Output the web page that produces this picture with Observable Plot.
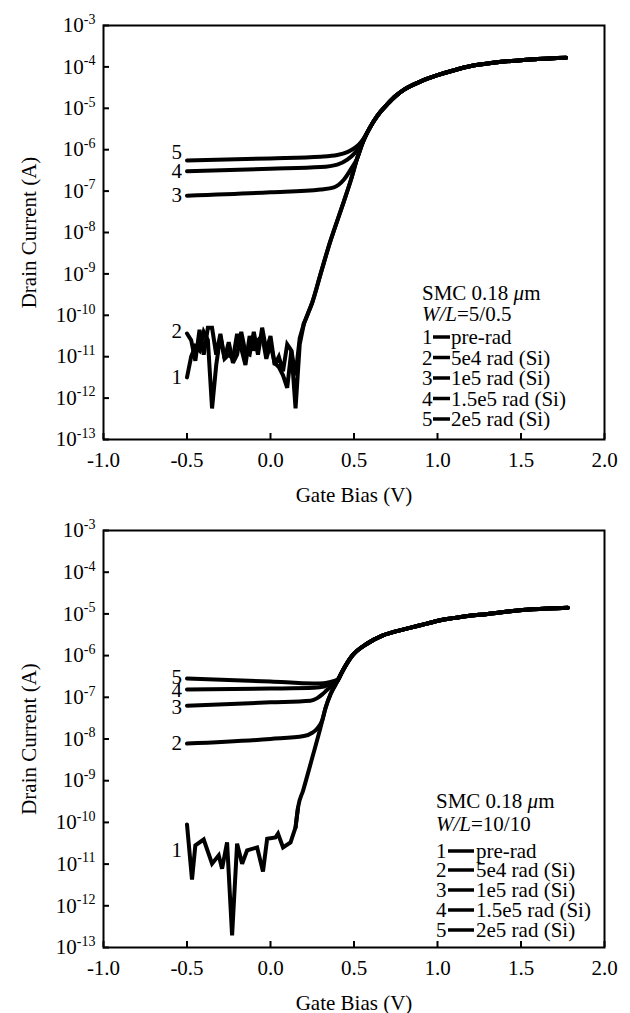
<!DOCTYPE html>
<html><head><meta charset="utf-8">
<script src="https://cdn.jsdelivr.net/npm/d3@7"></script>
<script src="https://cdn.jsdelivr.net/npm/@observablehq/plot@0.6"></script>
<style>
body{margin:0;background:#fff;}
#wrap{width:630px;}
svg{display:block;}
</style></head><body><div id="wrap"></div>
<script>
const FONT = '"Liberation Serif", "Times New Roman", serif';

// axis ticks
const xTicks = [-1.0, -0.5, 0.0, 0.5, 1.0, 1.5, 2.0];
const yTickExps = [-13, -12, -11, -10, -9, -8, -7, -6, -5, -4, -3];
const legendNames = ["pre-rad", "5e4 rad (Si)", "1e5 rad (Si)", "1.5e5 rad (Si)", "2e5 rad (Si)"];
const curveNames = ["1", "2", "3", "4", "5"];

// ---------- Top panel: SMC 0.18 um, W/L = 5/0.5 (values are log10 of drain current in A) ----------
const topNoiseX = [-0.5, -0.475, -0.45, -0.425, -0.4, -0.375, -0.35, -0.325, -0.3, -0.275, -0.25, -0.225, -0.2, -0.175, -0.15, -0.125, -0.1, -0.075, -0.05, -0.025, 0.0, 0.025, 0.05, 0.075, 0.1, 0.125, 0.15, 0.175, 0.2];
const top1NoiseLog = [-11.5, -11.0, -10.75, -10.85, -10.4, -10.6, -12.25, -11.2, -10.5, -11.05, -10.95, -11.05, -10.45, -10.8, -11.2, -10.5, -10.85, -10.6, -10.5, -11.05, -10.7, -11.15, -11.25, -11.45, -11.75, -10.85, -12.25, -10.7, -10.2];
const top2NoiseLog = [-10.44, -10.6, -11.1, -10.35, -10.95, -10.3, -10.3, -10.95, -10.45, -11.05, -10.65, -11.15, -10.95, -10.4, -10.9, -10.95, -10.4, -10.95, -10.3, -10.85, -10.5, -11.2, -11.0, -11.35, -10.7, -10.85, -11.45, -10.55, -10.2];
const topRiseX = [0.225, 0.25, 0.30, 0.36, 0.38, 0.44, 0.48, 0.52, 0.55];
const topRiseLog = [-9.95, -9.69, -9.0, -8.19, -7.95, -7.24, -6.75, -6.2, -5.85];
const topOnX = [0.58, 0.62, 0.66, 0.70, 0.75, 0.80, 0.90, 1.0, 1.1, 1.2, 1.3, 1.4, 1.5, 1.6, 1.77];
const topOnLog = [-5.58, -5.3, -5.08, -4.9, -4.7, -4.55, -4.35, -4.2, -4.08, -3.98, -3.92, -3.87, -3.84, -3.81, -3.78];
const top3X = [-0.5, 0.0, 0.3, 0.38, 0.44, 0.48, 0.52, 0.55];
const top3Log = [-7.11, -7.03, -6.96, -6.91, -6.72, -6.48, -6.2, -5.85];
const top4X = [-0.5, 0.0, 0.3, 0.40, 0.46, 0.50, 0.53, 0.56];
const top4Log = [-6.52, -6.46, -6.42, -6.36, -6.24, -6.10, -5.94, -5.72];
const top5X = [-0.5, 0.0, 0.3, 0.40, 0.46, 0.50, 0.53, 0.56];
const top5Log = [-6.26, -6.21, -6.17, -6.13, -6.06, -5.97, -5.87, -5.72];

// ---------- Bottom panel: SMC 0.18 um, W/L = 10/10 ----------
const bot1NoiseX = [-0.5, -0.47, -0.45, -0.40, -0.35, -0.31, -0.29, -0.26, -0.23, -0.20, -0.17, -0.14, -0.08, -0.045, -0.02, 0.03, 0.045, 0.075, 0.12, 0.15];
const bot1NoiseLog = [-10.05, -11.37, -10.55, -10.41, -10.99, -10.79, -11.11, -10.48, -12.71, -10.51, -10.99, -10.67, -10.6, -11.18, -10.39, -10.36, -10.27, -10.6, -10.48, -10.12];
const bot1RiseX = [0.165, 0.195, 0.25, 0.30, 0.33, 0.36, 0.40];
const bot1RiseLog = [-9.64, -9.24, -8.45, -7.72, -7.25, -6.92, -6.62];
const botOnX = [0.43, 0.49, 0.58, 0.67, 0.75, 0.84, 0.93, 1.03, 1.15, 1.30, 1.45, 1.57, 1.78];
const botOnLog = [-6.38, -6.0, -5.71, -5.52, -5.42, -5.33, -5.24, -5.14, -5.07, -5.0, -4.93, -4.89, -4.85];
const bot2X = [-0.5, 0.0, 0.20, 0.25, 0.28, 0.31, 0.33, 0.36, 0.40];
const bot2Log = [-8.11, -8.0, -7.93, -7.85, -7.75, -7.55, -7.25, -6.92, -6.62];
const bot3X = [-0.5, 0.0, 0.24, 0.28, 0.31, 0.34, 0.37, 0.40];
const bot3Log = [-7.20, -7.12, -7.08, -7.02, -6.93, -6.82, -6.72, -6.62];
const bot4X = [-0.5, 0.0, 0.26, 0.32, 0.36, 0.40];
const bot4Log = [-6.81, -6.79, -6.77, -6.74, -6.68, -6.60];
const bot5X = [-0.5, 0.0, 0.26, 0.32, 0.36, 0.40];
const bot5Log = [-6.55, -6.62, -6.67, -6.66, -6.63, -6.58];

function seriesRows(name, xs, logs) {
  return xs.map((x, i) => ({series: name, x, y: Math.pow(10, logs[i])}));
}
const last = a => a[a.length - 1];

// noisy (straight-segment) parts and smooth parts of each curve
const topNoisy = [
  seriesRows("1", topNoiseX, top1NoiseLog),
  seriesRows("2", topNoiseX, top2NoiseLog)
];
const topSmooth = [
  seriesRows("1", [last(topNoiseX), ...topRiseX, ...topOnX], [last(top1NoiseLog), ...topRiseLog, ...topOnLog]),
  seriesRows("2", [last(topNoiseX), ...topRiseX, ...topOnX], [last(top2NoiseLog), ...topRiseLog, ...topOnLog]),
  seriesRows("3", [...top3X, ...topOnX], [...top3Log, ...topOnLog]),
  seriesRows("4", [...top4X, ...topOnX], [...top4Log, ...topOnLog]),
  seriesRows("5", [...top5X, ...topOnX], [...top5Log, ...topOnLog])
];
const botNoisy = [
  seriesRows("1", [...bot1NoiseX, bot1RiseX[0]], [...bot1NoiseLog, bot1RiseLog[0]])
];
const botSmooth = [
  seriesRows("1", [last(bot1NoiseX), ...bot1RiseX, ...botOnX], [last(bot1NoiseLog), ...bot1RiseLog, ...botOnLog]),
  seriesRows("2", [...bot2X, ...botOnX], [...bot2Log, ...botOnLog]),
  seriesRows("3", [...bot3X, ...botOnX], [...bot3Log, ...botOnLog]),
  seriesRows("4", [...bot4X, ...botOnX], [...bot4Log, ...botOnLog]),
  seriesRows("5", [...bot5X, ...botOnX], [...bot5Log, ...botOnLog])
];

function makePanel({noisy, smooth, height, marginTop, marginBottom, labelDy}) {
  // curve start points (for the 1..5 labels): noisy curves start in the noisy part
  const startOf = name => {
    const n = noisy.find(s => s[0].series === name);
    return n ? n[0] : smooth.find(s => s[0].series === name)[0];
  };
  const starts = curveNames.map((t, i) => ({t, x: startOf(t).x, y: startOf(t).y, dy: labelDy[i]}));
  const yTicks = yTickExps.map(e => Math.pow(10, e));
  const svg = Plot.plot({
    width: 630, height, marginTop, marginBottom, marginLeft: 103, marginRight: 26,
    style: {fontFamily: FONT, fontSize: "21px", color: "black", background: "white", overflow: "visible"},
    x: {domain: [-1, 2]},
    y: {type: "log", domain: [1e-13, 1e-3]},
    marks: [
      Plot.axisX({ticks: xTicks, tickSize: -6, tickPadding: 19, strokeWidth: 2,
        tickFormat: d => d.toFixed(1), label: "Gate Bias (V)", labelAnchor: "center", labelArrow: "none", labelOffset: 62}),
      Plot.axisY({ticks: yTicks, tickSize: -6, tickPadding: 14, strokeWidth: 2,
        tickFormat: d => "10^" + Math.round(Math.log10(d)), label: "Drain Current (A)", labelAnchor: "center", labelArrow: "none", labelOffset: 82}),
      Plot.frame({stroke: "black", strokeWidth: 2}),
      Plot.line(noisy.flat(), {x: "x", y: "y", z: "series", stroke: "black", strokeWidth: 4, curve: "linear", strokeLinejoin: "miter", strokeMiterlimit: 3}),
      Plot.line(smooth.flat(), {x: "x", y: "y", z: "series", stroke: "black", strokeWidth: 4, curve: "monotone-x", strokeLinejoin: "round"}),
      ...starts.map(s => Plot.text([s], {x: "x", y: "y", text: "t", dx: -5, dy: s.dy, textAnchor: "end", fontSize: 21}))
    ]
  });
  d3.select(svg).selectAll('g[aria-label="y-axis tick label"] text').each(function() {
    const parts = this.textContent.split("^");
    const el = d3.select(this);
    el.text(parts[0]);
    el.append("tspan").attr("font-size", "14px").attr("dy", "-0.6em").text(parts[1]);
  });
  return svg;
}

function drawLegend(svg, o) {
  const g = d3.select(svg).append("g").attr("font-family", FONT).attr("font-size", 21)
    .attr("fill", "black").attr("text-anchor", "start");
  const t1 = g.append("text").attr("x", o.x).attr("y", o.ys[0]);
  t1.append("tspan").text("SMC 0.18 ");
  t1.append("tspan").attr("font-style", "italic").text("\u03bc");
  t1.append("tspan").text("m");
  const t2 = g.append("text").attr("x", o.x).attr("y", o.ys[1]);
  t2.append("tspan").attr("font-style", "italic").text("W/L");
  t2.append("tspan").text("=" + o.ratio);
  legendNames.forEach((name, i) => {
    const yb = o.ys[2 + i];
    g.append("text").attr("x", o.numX).attr("y", yb).text(curveNames[i]);
    g.append("line").attr("x1", o.l1).attr("x2", o.l2).attr("y1", yb - 7).attr("y2", yb - 7)
      .attr("stroke", "black").attr("stroke-width", 3.5);
    g.append("text").attr("x", o.tx).attr("y", yb).text(name);
  });
}

const wrap = document.getElementById("wrap");
const topPanel = makePanel({noisy: topNoisy, smooth: topSmooth, height: 506, marginTop: 25, marginBottom: 67, labelDy: [0, -2, 0, 0, -8]});
drawLegend(topPanel, {x: 422, ys: [300, 321, 344, 364.5, 385, 405.5, 426], ratio: "5/0.5", numX: 422, l1: 433, l2: 450, tx: 451});
wrap.appendChild(topPanel);
const botPanel = makePanel({noisy: botNoisy, smooth: botSmooth, height: 507, marginTop: 24, marginBottom: 66, labelDy: [26, 0, 2, 1, -1]});
drawLegend(botPanel, {x: 436, ys: [302, 325, 352, 371, 391, 411, 431], ratio: "10/10", numX: 436, l1: 448, l2: 474, tx: 476});
wrap.appendChild(botPanel);
</script>
</body></html>
